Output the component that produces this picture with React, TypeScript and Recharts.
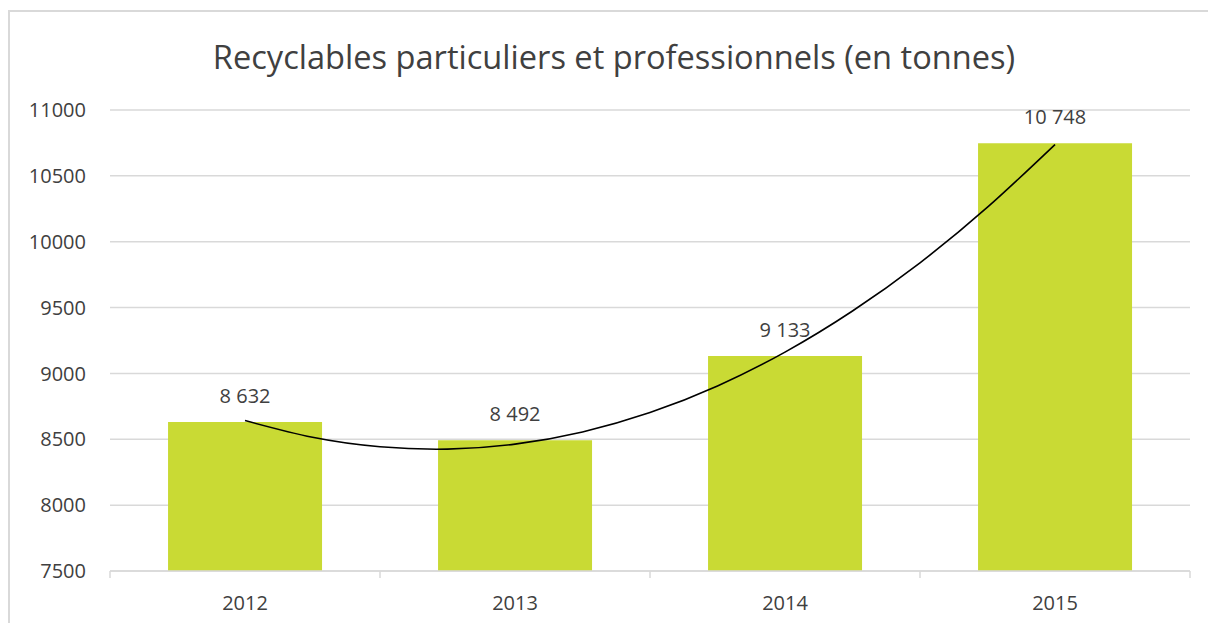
import {
  ComposedChart,
  Bar,
  Line,
  XAxis,
  YAxis,
  CartesianGrid,
  LabelList,
} from "recharts";

const years = ["2012", "2013", "2014", "2015"];
const tonnes = [8632, 8492, 9133, 10748];
const yTicks = [7500, 8000, 8500, 9000, 9500, 10000, 10500, 11000];

// trend curve, x in category steps (0 = 2012)
const trendX = [0, 0.25, 0.5, 0.75, 1, 1.25, 1.5, 1.75, 2, 2.25, 2.5, 2.75, 3];
const trendY = [8642, 8515, 8443, 8425, 8463, 8556, 8703, 8905, 9162, 9474, 9840, 10262, 10738];

const TEXT = "#404040";
const GRID = "#d9d9d9";
const FONT = "'Open Sans', sans-serif";

const data = years.map((year, i) => ({ year, value: tonnes[i] }));
const trend = trendX.map((x, i) => ({ x, trend: trendY[i] }));

const fmt = (v: any) => String(v).replace(/\B(?=(\d{3})+(?!\d))/g, " ");

const TICK_MARGIN = 25;

function YearTick(props: any) {
  const { x, y, payload, index } = props;
  const half = payload.offset || 0;
  const axisY = y - TICK_MARGIN;
  return (
    <g>
      <line x1={x - half} x2={x - half} y1={axisY} y2={axisY + 7} stroke={GRID} strokeWidth={1.5} />
      {index === years.length - 1 && (
        <line x1={x + half} x2={x + half} y1={axisY} y2={axisY + 7} stroke={GRID} strokeWidth={1.5} />
      )}
      <text x={x} y={y} dy="0.71em" textAnchor="middle" fill={TEXT} fontSize={20} fontFamily={FONT}>
        {payload.value}
      </text>
    </g>
  );
}

export default function App() {
  return (
    <div style={{ position: "absolute", left: 0, top: 0, width: 1208, height: 623, overflow: "hidden", background: "#fff" }}>
      <div
        style={{
          position: "absolute",
          left: 8,
          top: 10,
          width: 1230,
          height: 700,
          border: `2px solid ${GRID}`,
          boxSizing: "border-box",
        }}
      />
      <div
        style={{
          position: "absolute",
          left: 0,
          width: 1228,
          top: 36,
          textAlign: "center",
          fontFamily: FONT,
          fontSize: 32.6,
          color: TEXT,
          lineHeight: "42px",
        }}
      >
        Recyclables particuliers et professionnels (en tonnes)
      </div>
      <div style={{ position: "absolute", left: 10, top: 12 }}>
        <ComposedChart
          width={1198}
          height={611}
          data={data}
          margin={{ top: 98, right: 18, bottom: 2, left: 0 }}
          barCategoryGap="21.5%"
        >
          <CartesianGrid vertical={false} stroke={GRID} strokeWidth={1.5} />
          <XAxis
            dataKey="year"
            height={50}
            axisLine={{ stroke: GRID, strokeWidth: 1.5 }}
            tickLine={false}
            tickSize={0}
            tickMargin={TICK_MARGIN}
            tick={<YearTick />}
            interval={0}
          />
          <XAxis
            xAxisId="trend"
            dataKey="x"
            type="number"
            domain={[-0.5, 3.5]}
            allowDataOverflow
            hide
          />
          <YAxis
            width={100}
            domain={[7500, 11000]}
            ticks={yTicks}
            allowDataOverflow
            axisLine={false}
            tickLine={false}
            tickSize={0}
            tickMargin={24}
            tick={{ fill: TEXT, fontSize: 20, fontFamily: FONT }}
          />
          <Bar dataKey="value" fill="#c9da34" isAnimationActive={false}>
            <LabelList
              dataKey="value"
              position="top"
              offset={19}
              formatter={fmt}
              fill={TEXT}
              fontSize={20}
              fontFamily={FONT}
            />
          </Bar>
          <Line
            xAxisId="trend"
            data={trend}
            dataKey="trend"
            type="natural"
            stroke="#000"
            strokeWidth={1.6}
            dot={false}
            activeDot={false}
            isAnimationActive={false}
          />
        </ComposedChart>
      </div>
    </div>
  );
}
